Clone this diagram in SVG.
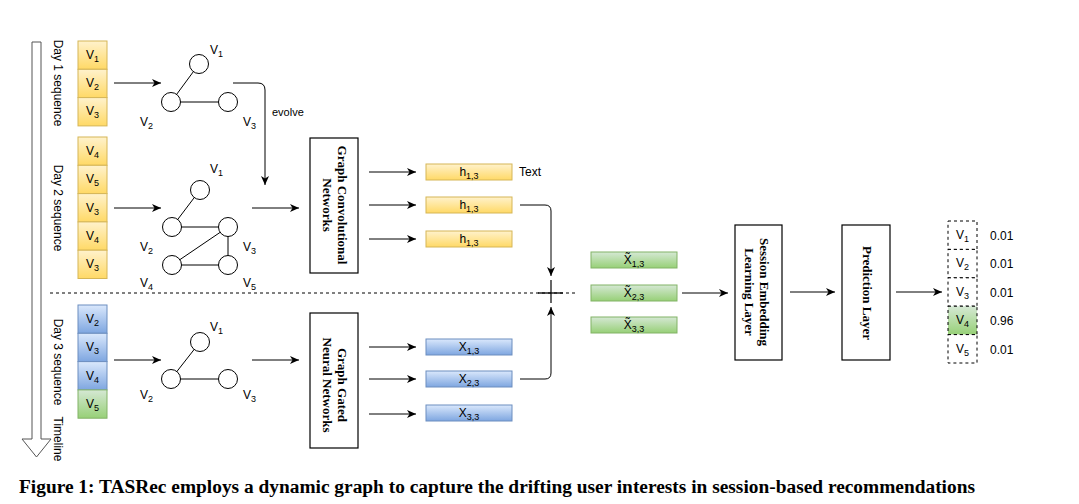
<svg xmlns="http://www.w3.org/2000/svg" width="1079" height="504" viewBox="0 0 1079 504">
<style>
.s{font-family:"Liberation Sans",Arial,sans-serif;font-size:12px;fill:#000}
.b{font-family:"Liberation Serif","Times New Roman",serif;font-size:13px;font-weight:bold;fill:#000}
.y{fill:url(#gy);stroke:#d6b656;stroke-width:1}
.bl{fill:url(#gb);stroke:#6c8ebf;stroke-width:1}
.g{fill:url(#gg);stroke:#82b366;stroke-width:1}
.c{fill:#fff;stroke:#000;stroke-width:1}
.e{stroke:#000;stroke-width:1;fill:none}
.k{fill:#fff;stroke:#000;stroke-width:1.2}
.d{fill:#fff;stroke:#000;stroke-width:1;stroke-dasharray:3,3}
.ar{stroke:#000;stroke-width:1;fill:none;marker-end:url(#m)}
</style>
<defs>
<linearGradient id="gy" x1="0" y1="0" x2="0" y2="1"><stop offset="0" stop-color="#fff2cc"/><stop offset="1" stop-color="#ffd966"/></linearGradient>
<linearGradient id="gb" x1="0" y1="0" x2="0" y2="1"><stop offset="0" stop-color="#dae8fc"/><stop offset="1" stop-color="#7ea6e0"/></linearGradient>
<linearGradient id="gg" x1="0" y1="0" x2="0" y2="1"><stop offset="0" stop-color="#d5e8d4"/><stop offset="1" stop-color="#97d077"/></linearGradient>
<marker id="m" markerWidth="10" markerHeight="10" refX="9" refY="5" orient="auto" markerUnits="userSpaceOnUse"><path d="M0,1 L9,5 L0,9 L2.5,5 Z" fill="#000"/></marker>
</defs>
<rect width="1079" height="504" fill="#fff"/>

<g id="timeline">
<path d="M32,42 H41 V439 H51 L36.5,457 L22,439 H32 Z" fill="#fff" stroke="#555" stroke-width="1"/>
<text class="s" transform="translate(54,83) rotate(90)" text-anchor="middle">Day 1 sequence</text>
<text class="s" transform="translate(54,208) rotate(90)" text-anchor="middle">Day 2 sequence</text>
<text class="s" transform="translate(54,362) rotate(90)" text-anchor="middle">Day 3 sequence</text>
<text class="s" transform="translate(54,439) rotate(90)" text-anchor="middle">Timeline</text>
</g>

<g id="day1-seq">
<rect class="y" x="78" y="41" width="29" height="28.3"/>
<rect class="y" x="78" y="69.3" width="29" height="28.3"/>
<rect class="y" x="78" y="97.6" width="29" height="28.3"/>
<text class="s" x="92.5" y="59" text-anchor="middle">V<tspan font-size="9" dy="3">1</tspan></text>
<text class="s" x="92.5" y="87" text-anchor="middle">V<tspan font-size="9" dy="3">2</tspan></text>
<text class="s" x="92.5" y="115" text-anchor="middle">V<tspan font-size="9" dy="3">3</tspan></text>
</g>

<g id="day2-seq">
<rect class="y" x="78" y="137" width="29" height="28.3"/>
<rect class="y" x="78" y="165.3" width="29" height="28.3"/>
<rect class="y" x="78" y="193.6" width="29" height="28.3"/>
<rect class="y" x="78" y="221.9" width="29" height="28.3"/>
<rect class="y" x="78" y="250.2" width="29" height="28.3"/>
<text class="s" x="92.5" y="155" text-anchor="middle">V<tspan font-size="9" dy="3">4</tspan></text>
<text class="s" x="92.5" y="183" text-anchor="middle">V<tspan font-size="9" dy="3">5</tspan></text>
<text class="s" x="92.5" y="212" text-anchor="middle">V<tspan font-size="9" dy="3">3</tspan></text>
<text class="s" x="92.5" y="240" text-anchor="middle">V<tspan font-size="9" dy="3">4</tspan></text>
<text class="s" x="92.5" y="268" text-anchor="middle">V<tspan font-size="9" dy="3">3</tspan></text>
</g>

<g id="day3-seq">
<rect class="bl" x="78" y="305" width="29" height="28.3"/>
<rect class="bl" x="78" y="333.3" width="29" height="28.3"/>
<rect class="bl" x="78" y="361.6" width="29" height="28.3"/>
<rect class="g" x="78" y="389.9" width="29" height="28.3"/>
<text class="s" x="92.5" y="323" text-anchor="middle">V<tspan font-size="9" dy="3">2</tspan></text>
<text class="s" x="92.5" y="351" text-anchor="middle">V<tspan font-size="9" dy="3">3</tspan></text>
<text class="s" x="92.5" y="380" text-anchor="middle">V<tspan font-size="9" dy="3">4</tspan></text>
<text class="s" x="92.5" y="408" text-anchor="middle">V<tspan font-size="9" dy="3">5</tspan></text>
</g>

<g id="graph1">
<line class="e" x1="199" y1="64" x2="171" y2="102"/>
<line class="e" x1="171" y1="102" x2="228" y2="102"/>
<circle class="c" cx="199" cy="64" r="9.5"/>
<circle class="c" cx="171" cy="102" r="9.5"/>
<circle class="c" cx="228" cy="102" r="9.5"/>
<text class="s" x="210" y="54">V<tspan font-size="9" dy="3">1</tspan></text>
<text class="s" x="140" y="126">V<tspan font-size="9" dy="3">2</tspan></text>
<text class="s" x="243" y="126">V<tspan font-size="9" dy="3">3</tspan></text>
</g>

<g id="graph2">
<line class="e" x1="200" y1="190" x2="172" y2="227"/>
<line class="e" x1="172" y1="227" x2="228" y2="227"/>
<line class="e" x1="228" y1="227" x2="172" y2="265"/>
<line class="e" x1="228" y1="227" x2="228" y2="265"/>
<line class="e" x1="172" y1="265" x2="228" y2="265"/>
<circle class="c" cx="200" cy="190" r="9.5"/>
<circle class="c" cx="172" cy="227" r="9.5"/>
<circle class="c" cx="228" cy="227" r="9.5"/>
<circle class="c" cx="172" cy="265" r="9.5"/>
<circle class="c" cx="228" cy="265" r="9.5"/>
<text class="s" x="210" y="173">V<tspan font-size="9" dy="3">1</tspan></text>
<text class="s" x="140" y="251">V<tspan font-size="9" dy="3">2</tspan></text>
<text class="s" x="243" y="251">V<tspan font-size="9" dy="3">3</tspan></text>
<text class="s" x="140" y="287">V<tspan font-size="9" dy="3">4</tspan></text>
<text class="s" x="243" y="287">V<tspan font-size="9" dy="3">5</tspan></text>
</g>

<g id="graph3">
<line class="e" x1="200" y1="342" x2="171" y2="379"/>
<line class="e" x1="171" y1="379" x2="228" y2="379"/>
<circle class="c" cx="200" cy="342" r="9.5"/>
<circle class="c" cx="171" cy="379" r="9.5"/>
<circle class="c" cx="228" cy="379" r="9.5"/>
<text class="s" x="210" y="331">V<tspan font-size="9" dy="3">1</tspan></text>
<text class="s" x="140" y="399">V<tspan font-size="9" dy="3">2</tspan></text>
<text class="s" x="243" y="399">V<tspan font-size="9" dy="3">3</tspan></text>
</g>

<g id="gcn">
<rect class="k" x="310" y="138" width="48" height="135"/>
<text class="b" transform="translate(338,205) rotate(90)" text-anchor="middle">Graph Convolutional</text>
<text class="b" transform="translate(323,205) rotate(90)" text-anchor="middle">Networks</text>
</g>

<g id="ggnn">
<rect class="k" x="310" y="313" width="48" height="135"/>
<text class="b" transform="translate(338,385) rotate(90)" text-anchor="middle">Graph Gated</text>
<text class="b" transform="translate(323,385) rotate(90)" text-anchor="middle">Neural Networks</text>
</g>

<g id="h-outputs">
<rect class="y" x="426" y="164" width="86" height="16"/>
<rect class="y" x="426" y="197" width="86" height="16"/>
<rect class="y" x="426" y="231" width="86" height="16"/>
<text class="s" x="469" y="176" text-anchor="middle">h<tspan font-size="9" dy="3">1,3</tspan></text>
<text class="s" x="469" y="209" text-anchor="middle">h<tspan font-size="9" dy="3">1,3</tspan></text>
<text class="s" x="469" y="243" text-anchor="middle">h<tspan font-size="9" dy="3">1,3</tspan></text>
<text class="s" x="519" y="176">Text</text>
</g>

<g id="x-outputs">
<rect class="bl" x="426" y="339" width="86" height="16"/>
<rect class="bl" x="426" y="371" width="86" height="16"/>
<rect class="bl" x="426" y="405" width="86" height="16"/>
<text class="s" x="469" y="351" text-anchor="middle">X<tspan font-size="9" dy="3">1,3</tspan></text>
<text class="s" x="469" y="383" text-anchor="middle">X<tspan font-size="9" dy="3">2,3</tspan></text>
<text class="s" x="469" y="417" text-anchor="middle">X<tspan font-size="9" dy="3">3,3</tspan></text>
</g>

<g id="fused">
<rect class="g" x="591" y="252" width="86" height="16"/>
<rect class="g" x="591" y="285" width="86" height="16"/>
<rect class="g" x="591" y="317" width="86" height="16"/>
<text class="s" x="634" y="264" text-anchor="middle">X&#771;<tspan font-size="9" dy="3">1,3</tspan></text>
<text class="s" x="634" y="297" text-anchor="middle">X&#771;<tspan font-size="9" dy="3">2,3</tspan></text>
<text class="s" x="634" y="329" text-anchor="middle">X&#771;<tspan font-size="9" dy="3">3,3</tspan></text>
</g>

<g id="sell">
<rect class="k" x="735" y="225" width="47" height="135"/>
<text class="b" transform="translate(760,292) rotate(90)" text-anchor="middle">Session Embedding</text>
<text class="b" transform="translate(745,292) rotate(90)" text-anchor="middle">Learning Layer</text>
</g>

<g id="prediction">
<rect class="k" x="842" y="225" width="48" height="135"/>
<text class="b" transform="translate(863,293) rotate(90)" text-anchor="middle">Prediction Layer</text>
</g>

<g id="scores">
<rect class="d" x="948" y="221" width="29" height="28.4"/>
<rect class="d" x="948" y="249.4" width="29" height="28.4"/>
<rect class="d" x="948" y="277.8" width="29" height="28.4"/>
<rect class="d" x="948" y="306.2" width="29" height="28.4" style="fill:url(#gg)"/>
<rect class="d" x="948" y="334.6" width="29" height="28.4"/>
<text class="s" x="962.5" y="239" text-anchor="middle">V<tspan font-size="9" dy="3">1</tspan></text>
<text class="s" x="962.5" y="267" text-anchor="middle">V<tspan font-size="9" dy="3">2</tspan></text>
<text class="s" x="962.5" y="296" text-anchor="middle">V<tspan font-size="9" dy="3">3</tspan></text>
<text class="s" x="962.5" y="324" text-anchor="middle">V<tspan font-size="9" dy="3">4</tspan></text>
<text class="s" x="962.5" y="353" text-anchor="middle">V<tspan font-size="9" dy="3">5</tspan></text>
<text class="s" x="990" y="240">0.01</text>
<text class="s" x="990" y="268">0.01</text>
<text class="s" x="990" y="297">0.01</text>
<text class="s" x="990" y="325">0.96</text>
<text class="s" x="990" y="354">0.01</text>
</g>

<g id="connectors">
<line class="ar" x1="114" y1="83" x2="161" y2="83"/>
<line class="ar" x1="114" y1="208" x2="161" y2="208"/>
<line class="ar" x1="114" y1="360" x2="161" y2="360"/>
<path class="ar" d="M233,83 H258 Q265,83 265,90 V185"/>
<text class="s" x="272" y="116" style="font-size:11px">evolve</text>
<line class="ar" x1="252" y1="208" x2="299" y2="208"/>
<line class="ar" x1="252" y1="360" x2="299" y2="360"/>
<line class="ar" x1="369" y1="172" x2="416" y2="172"/>
<line class="ar" x1="369" y1="205" x2="416" y2="205"/>
<line class="ar" x1="369" y1="239" x2="416" y2="239"/>
<line class="ar" x1="369" y1="347" x2="416" y2="347"/>
<line class="ar" x1="369" y1="379" x2="416" y2="379"/>
<line class="ar" x1="369" y1="414" x2="416" y2="414"/>
<path class="ar" d="M520,205 H545 Q551,205 551,211 V276"/>
<path class="ar" d="M520,379 H545 Q551,379 551,373 V307"/>
<line x1="50" y1="293" x2="578" y2="293" stroke="#000" stroke-width="1" stroke-dasharray="3,3"/>
<line x1="538" y1="293" x2="563" y2="293" stroke="#000" stroke-width="1.3"/>
<line x1="551" y1="280" x2="551" y2="303" stroke="#000" stroke-width="1.2"/>
<line class="ar" x1="682" y1="293" x2="728" y2="293"/>
<line class="ar" x1="790" y1="292" x2="835" y2="292"/>
<line class="ar" x1="896" y1="292" x2="942" y2="292"/>
</g>

<text x="19" y="493" font-family="'Liberation Serif','Times New Roman',serif" font-size="18" font-weight="bold" textLength="956" lengthAdjust="spacingAndGlyphs">Figure 1: TASRec employs a dynamic graph to capture the drifting user interests in session-based recommendations</text>
</svg>
